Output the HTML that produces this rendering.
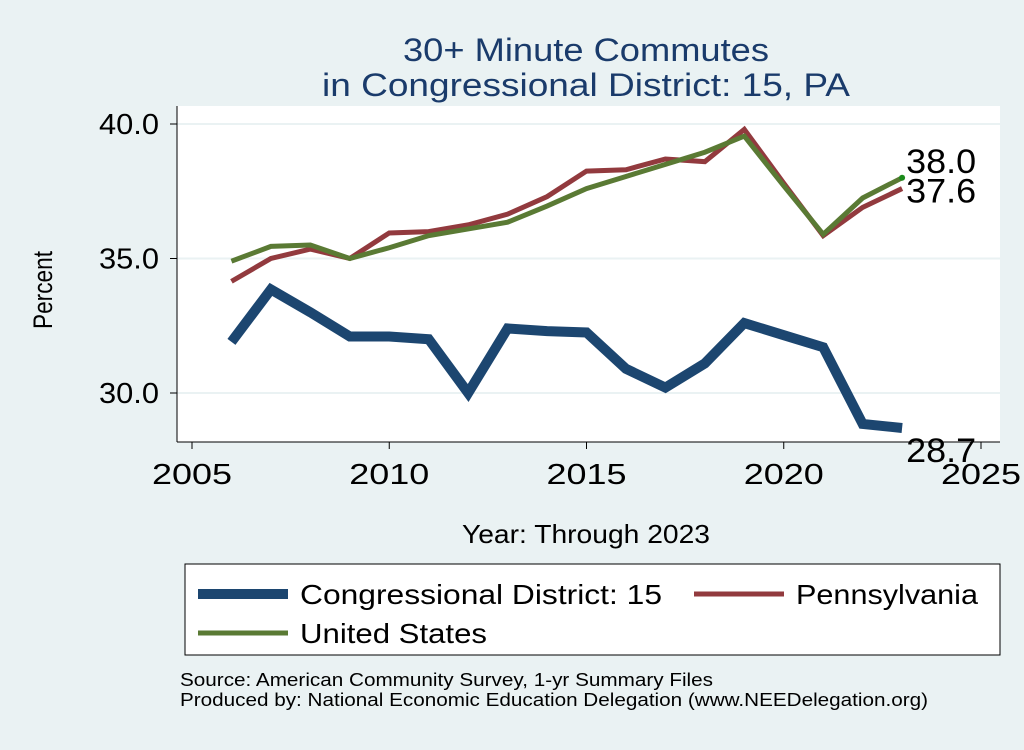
<!DOCTYPE html>
<html><head><meta charset="utf-8"><style>
html,body{margin:0;padding:0;background:#eaf2f3;}
body{width:1024px;height:745px;overflow:hidden;font-family:"Liberation Sans",sans-serif;}
</style></head><body>
<svg id="chart" width="1024" height="745" xmlns="http://www.w3.org/2000/svg">
<rect x="0" y="0" width="1024" height="745" fill="#eaf2f3"/>
<text x="586" y="61" font-size="32" fill="#1a3b6b" text-anchor="middle" textLength="366" lengthAdjust="spacingAndGlyphs">30+ Minute Commutes</text>
<text x="586" y="96" font-size="32" fill="#1a3b6b" text-anchor="middle" textLength="528" lengthAdjust="spacingAndGlyphs">in Congressional District:  15, PA</text>
<rect x="177" y="106" width="823" height="336" fill="#ffffff"/>
<g id="grid"></g><g id="axes"></g><g id="series"></g>
<text x="52" y="290" font-size="27" fill="#000" text-anchor="middle" textLength="78" lengthAdjust="spacingAndGlyphs" transform="rotate(-90 52 290)">Percent</text>
<text x="586" y="543" font-size="26" fill="#000" text-anchor="middle" textLength="248" lengthAdjust="spacingAndGlyphs">Year: Through 2023</text>
<g>
<rect x="185" y="564" width="815" height="91" fill="#fff" stroke="#000" stroke-width="1"/>
<line x1="198" y1="594" x2="288" y2="594" stroke="#1c4670" stroke-width="10"/>
<text x="300" y="604" font-size="28" textLength="362" lengthAdjust="spacingAndGlyphs">Congressional District:  15</text>
<line x1="694" y1="594" x2="784" y2="594" stroke="#923a3e" stroke-width="5"/>
<text x="796" y="604" font-size="28" textLength="182" lengthAdjust="spacingAndGlyphs">Pennsylvania</text>
<line x1="198" y1="633" x2="288" y2="633" stroke="#5a7a34" stroke-width="5"/>
<text x="300" y="643" font-size="28" textLength="187" lengthAdjust="spacingAndGlyphs">United States</text>
</g>
<text x="180" y="686" font-size="18" textLength="533" lengthAdjust="spacingAndGlyphs">Source: American Community Survey, 1-yr Summary Files</text>
<text x="180" y="706" font-size="18" textLength="748" lengthAdjust="spacingAndGlyphs">Produced by: National Economic Education Delegation (www.NEEDelegation.org)</text>
</svg>
<script>
const years=[2006,2007,2008,2009,2010,2011,2012,2013,2014,2015,2016,2017,2018,2019,2020,2021,2022,2023];
const district=[31.9,33.85,33.0,32.1,32.1,32.0,30.0,32.4,32.3,32.25,30.9,30.2,31.1,32.6,32.15,31.7,28.85,28.7];
const pennsylvania=[34.15,35.0,35.35,35.0,35.95,36.0,36.25,36.65,37.3,38.25,38.3,38.7,38.6,39.8,37.8,35.85,36.9,37.6];
const unitedStates=[34.9,35.45,35.5,35.0,35.4,35.85,36.1,36.35,36.95,37.6,38.05,38.5,38.95,39.55,37.7,35.9,37.25,38.0];
const xTicks=[2005,2010,2015,2020,2025];
const yTicks=[30,35,40];
const NS="http://www.w3.org/2000/svg";
function X(v){return 192+(v-2005)*(981-192)/20;}
function Y(v){return 393-(v-30)*(393-124)/10;}
function mk(tag,attrs,parent){const e=document.createElementNS(NS,tag);for(const k in attrs)e.setAttribute(k,attrs[k]);parent.appendChild(e);return e;}
const grid=document.getElementById('grid'),axes=document.getElementById('axes'),ser=document.getElementById('series');
yTicks.forEach(t=>{
 const g=mk('line',{x1:177,x2:1000,y1:Y(t),y2:Y(t),stroke:'#eaf2f3','stroke-width':2},grid);
 
 
 const tk=mk('line',{x1:170,x2:177,y1:Y(t),y2:Y(t),stroke:'#000'},axes);
 
 
 const l=mk('text',{x:159,y:Y(t)+10,'font-size':29,'text-anchor':'end',textLength:60,lengthAdjust:'spacingAndGlyphs'},axes);l.textContent=t.toFixed(1);
 
 
});
xTicks.forEach(t=>{
 const tk=mk('line',{x1:X(t),x2:X(t),y1:442,y2:449,stroke:'#000'},axes);
 
 
 const l=mk('text',{x:X(t),y:484,'font-size':29,'text-anchor':'middle',textLength:80,lengthAdjust:'spacingAndGlyphs'},axes);l.textContent=t;
 
 
});
const ya=mk('line',{x1:177,x2:177,y1:106,y2:442,stroke:'#000'},axes);


const xa=mk('line',{x1:177,x2:1000,y1:442,y2:442,stroke:'#000'},axes);


function line(vals,color,w,name){
 const p=mk('polyline',{points:vals.map((v,i)=>X(years[i])+','+Y(v)).join(' '),fill:'none',stroke:color,'stroke-width':w,'stroke-linejoin':'miter'},ser);
 
 
}
line(district,'#1c4670',10,'line-district');
line(pennsylvania,'#923a3e',5,'line-pennsylvania');
line(unitedStates,'#5a7a34',5,'line-united-states');
const n=years.length-1;
const dot=mk('circle',{cx:X(years[n]),cy:Y(unitedStates[n]),r:3,fill:'#1a8a1a'},ser);


[[unitedStates[n],-5,'label-us-end'],[pennsylvania[n],14,'label-pa-end'],[district[n],34,'label-district-end']].forEach(a=>{
 const t=mk('text',{x:X(years[n])+4,y:Y(a[0])+a[1],'font-size':34,textLength:70,lengthAdjust:'spacingAndGlyphs'},ser);t.textContent=a[0].toFixed(1);
 
 
});
</script>
</body></html>
